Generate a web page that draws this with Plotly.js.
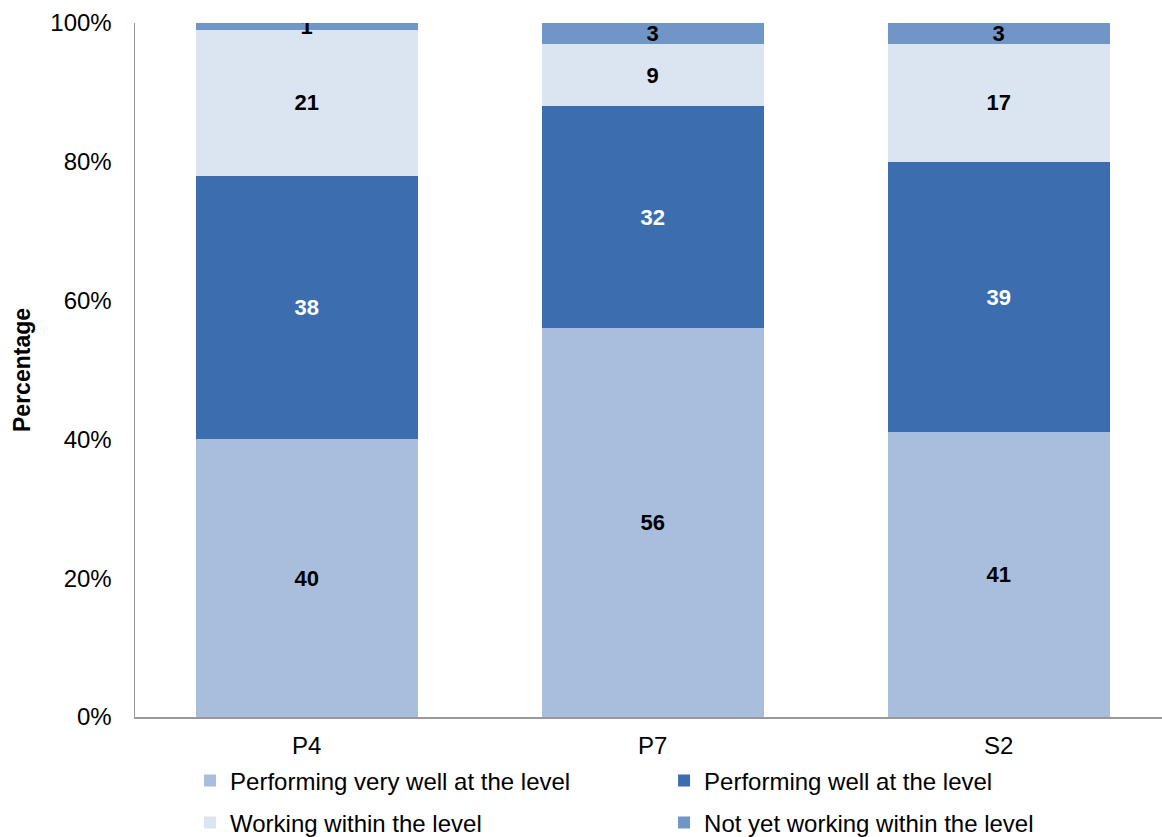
<!DOCTYPE html>
<html>
<head>
<meta charset="utf-8">
<script src="https://cdn.plot.ly/plotly-3.0.1.min.js"></script>
<style>html,body{margin:0;padding:0;background:#fff;}#chart{width:1162px;height:837px;}</style>
</head>
<body>
<div id="chart"></div>
<script>
const categories = ["P4", "P7", "S2"];
const seriesNames = ["Performing very well at the level", "Performing well at the level", "Working within the level", "Not yet working within the level"];
const veryWell = [40, 56, 41];
const well = [38, 32, 39];
const within = [21, 9, 17];
const notYet = [1, 3, 3];
const yTicks = [0, 20, 40, 60, 80, 100];

const colors = ["#A9BEDC", "#3C6EAF", "#DBE5F1", "#7096C8"];
const labelColors = ["#000000", "#FFFFFF", "#000000", "#000000"];
const legends = ["legend", "legend", "legend2", "legend2"];
const values = [veryWell, well, within, notYet];

const traces = values.map((vals, i) => ({
  type: "bar",
  name: seriesNames[i],
  x: categories,
  y: vals,
  text: vals.map(String),
  texttemplate: "%{text}",
  textposition: "inside",
  insidetextanchor: "middle",
  constraintext: "none",
  textangle: 0,
  textfont: {family: "Liberation Sans, Arial, sans-serif", size: 22, color: labelColors[i], weight: "bold"},
  marker: {color: colors[i], line: {width: 0}},
  legend: legends[i],
  hoverinfo: "skip"
}));

const legendCommon = {
  orientation: "h",
  xref: "paper",
  x: 0.0536, xanchor: "left",
  yref: "container",
  yanchor: "middle",
  entrywidth: 429, entrywidthmode: "pixels",
  font: {size: 24, color: "#000"},
  bgcolor: "rgba(0,0,0,0)",
  traceorder: "normal"
};

const layout = {
  width: 1162,
  height: 837,
  margin: {l: 135, r: 0, t: 23, b: 120, pad: 0},
  barmode: "stack",
  bargap: 0.358,
  paper_bgcolor: "#ffffff",
  plot_bgcolor: "#ffffff",
  font: {family: "Liberation Sans, Arial, sans-serif", size: 24, color: "#000"},
  showlegend: true,
  xaxis: {
    type: "category",
    range: [-0.496, 2.472],
    showline: true,
    linecolor: "#999999",
    linewidth: 1.5,
    ticks: "",
    showgrid: false,
    zeroline: false,
    ticklabelstandoff: 7,
    tickfont: {size: 24, color: "#000"}
  },
  yaxis: {
    range: [0, 100],
    tickvals: yTicks,
    ticktext: yTicks.map(v => v + "%"),
    showline: true,
    linecolor: "#999999",
    linewidth: 1.5,
    ticks: "",
    showgrid: false,
    zeroline: false,
    ticklabelstandoff: 17,
    tickfont: {size: 24, color: "#000"},
    title: {text: "Percentage", font: {size: 23, weight: "bold", color: "#000"}, standoff: 13}
  },
  legend: Object.assign({}, legendCommon, {y: 1 - 781 / 837}),
  legend2: Object.assign({}, legendCommon, {y: 1 - 823 / 837})
};

Plotly.newPlot("chart", traces, layout, {displayModeBar: false, staticPlot: true});
</script>
</body>
</html>
